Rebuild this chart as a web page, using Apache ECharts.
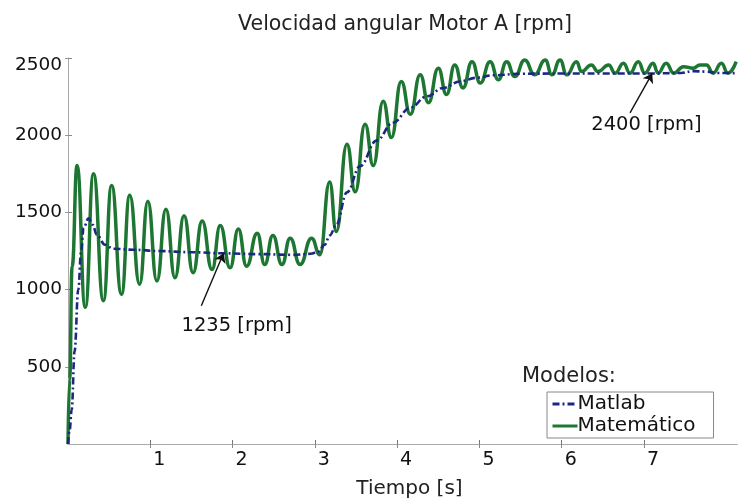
<!DOCTYPE html>
<html>
<head>
<meta charset="utf-8">
<script src="https://cdn.jsdelivr.net/npm/echarts@6/dist/echarts.min.js"></script>
<style>
  html, body { margin: 0; padding: 0; background: #fff; }
  #chart { width: 740px; height: 504px; }
</style>
</head>
<body>
<div id="chart"></div>
<script>
// Matlab model response (time in s, speed in rpm)
const matlabT = [0, 0.02, 0.045, 0.08, 0.125, 0.16, 0.19, 0.25, 0.3, 0.35, 0.45, 0.55, 0.8, 1.1, 1.5, 1.89, 2.3, 2.74, 2.95, 3.04, 3.12, 3.18, 3.26, 3.39, 3.55, 3.75, 3.95, 4.16, 4.36, 4.56, 4.76, 4.97, 5.17, 5.5, 6.0, 6.5, 7.1, 7.45, 7.6, 7.75, 7.9, 8.13];
const matlabRpm = [0, 90, 222, 600, 1000, 1250, 1400, 1462, 1420, 1355, 1290, 1265, 1258, 1250, 1242, 1235, 1230, 1225, 1232, 1245, 1290, 1350, 1419, 1630, 1800, 1965, 2081, 2178, 2252, 2306, 2348, 2372, 2388, 2398, 2400, 2400, 2400, 2403, 2415, 2412, 2403, 2402];

// Mathematical model response (time in s, speed in rpm)
const mathT = [0, 0.02, 0.05, 0.11, 0.21, 0.31, 0.43, 0.53, 0.65, 0.75, 0.87, 0.97, 1.08, 1.19, 1.30, 1.41, 1.52, 1.63, 1.75, 1.85, 1.97, 2.07, 2.17, 2.30, 2.39, 2.49, 2.60, 2.70, 2.82, 2.96, 3.06, 3.18, 3.26, 3.39, 3.49, 3.61, 3.71, 3.83, 3.93, 4.05, 4.16, 4.28, 4.38, 4.50, 4.60, 4.70, 4.80, 4.91, 5.01, 5.13, 5.23, 5.33, 5.43, 5.55, 5.67, 5.80, 5.88, 5.98, 6.06, 6.18, 6.24, 6.36, 6.44, 6.57, 6.65, 6.75, 6.83, 6.93, 7.01, 7.11, 7.17, 7.27, 7.36, 7.48, 7.60, 7.68, 7.76, 7.84, 7.94, 8.02, 8.12];
const mathRpm = [0, 420, 1150, 1803, 885, 1750, 928, 1675, 970, 1611, 1034, 1572, 1056, 1521, 1077, 1479, 1109, 1444, 1130, 1415, 1141, 1393, 1152, 1365, 1162, 1351, 1162, 1333, 1162, 1333, 1226, 1697, 1376, 1942, 1633, 2071, 1803, 2220, 1985, 2348, 2135, 2391, 2210, 2434, 2263, 2455, 2306, 2476, 2338, 2476, 2359, 2476, 2380, 2487, 2391, 2487, 2391, 2487, 2391, 2476, 2412, 2455, 2412, 2455, 2402, 2466, 2402, 2476, 2402, 2466, 2402, 2466, 2402, 2444, 2434, 2455, 2455, 2402, 2466, 2402, 2476];

// Axis ticks
const xTicks = [1, 2, 3, 4, 5, 6, 7];
const yTicks = [500, 1000, 1500, 2000, 2500];

// Annotated steady-state speeds: arrow tail, arrow tip on the Matlab curve, text position
const lowSpeed = 1235;
const lowTip = [1.89, lowSpeed];
const lowTail = [1.62, 896];
const lowText = [2.05, 767];

const highSpeed = 2400;
const highTip = [7.1, highSpeed];
const highTail = [6.83, 2145];
const highText = [7.03, 2064];

const FONT = 'DejaVu Sans';
const zip = (a, b) => a.map((v, i) => [v, b[i]]);

const arrow = (tail, tip) => [
  { coord: tail, symbol: 'none' },
  { coord: tip, symbol: 'arrow' }
];
const note = (pos, text) => ({
  coord: pos,
  symbol: 'circle',
  symbolSize: 0,
  label: { show: true, position: 'inside', formatter: text, color: '#111', fontSize: 19.5, fontFamily: FONT }
});

const chart = echarts.init(document.getElementById('chart'), null, { renderer: 'canvas' });

chart.setOption({
  backgroundColor: '#fff',
  animation: false,
  title: [
    {
      text: 'Velocidad angular Motor A [rpm]',
      left: 400, top: 9, textAlign: 'center',
      textStyle: { fontFamily: FONT, fontSize: 20.5, fontWeight: 'normal', color: '#222' }
    },
    {
      text: 'Modelos:',
      left: 517, top: 361,
      textStyle: { fontFamily: FONT, fontSize: 21, fontWeight: 'normal', color: '#222' }
    }
  ],
  legend: {
    orient: 'vertical',
    left: 547, top: 392,
    itemWidth: 25, itemHeight: 14, itemGap: 2,
    padding: [2, 18, 2, 4],
    borderColor: '#888', borderWidth: 1,
    backgroundColor: '#fff',
    itemStyle: { opacity: 0 },
    lineStyle: { width: 3 },
    textStyle: { fontFamily: FONT, fontSize: 20, color: '#111', padding: [0, 0, 0, -5] },
    data: ['Matlab', 'Matemático']
  },
  grid: { left: 68, right: 3, top: 58, bottom: 56 },
  xAxis: [
    {
      type: 'value', min: 0, max: 8.13,
      name: 'Tiempo [s]', nameLocation: 'middle', nameGap: 35,
      nameTextStyle: { fontFamily: FONT, fontSize: 20, color: '#222', padding: [0, 0, 0, 14] },
      axisLine: { show: true, lineStyle: { color: '#999', width: 1 } },
      axisTick: { show: true, inside: true, length: 4, customValues: xTicks, lineStyle: { color: '#777' } },
      axisLabel: { customValues: xTicks, fontFamily: FONT, fontSize: 19, color: '#111', margin: 7, padding: [0, 0, 0, 18] },
      splitLine: { show: false }
    },
    {
      type: 'value', min: 0, max: 8.13, position: 'top',
      axisLine: { show: true, lineStyle: { color: '#aaa', width: 1 } },
      axisTick: { show: true, inside: true, length: 4, customValues: xTicks, lineStyle: { color: '#888' } },
      axisLabel: { show: false },
      splitLine: { show: false }
    }
  ],
  yAxis: [
    {
      type: 'value', min: 0, max: 2500,
      axisLine: { show: true, lineStyle: { color: '#aaa', width: 1 } },
      axisTick: { show: true, inside: true, length: 4, customValues: yTicks, lineStyle: { color: '#888' } },
      axisLabel: {
        customValues: yTicks, fontFamily: FONT, fontSize: 18.5, color: '#111', margin: 6,
        formatter: v => (v === 2500 ? '{top|' + v + '}' : String(v)),
        rich: { top: { fontFamily: FONT, fontSize: 18.5, color: '#111', padding: [14, 0, 0, 0] } }
      },
      splitLine: { show: false }
    },
    {
      type: 'value', min: 0, max: 2500, position: 'right',
      axisLine: { show: false },
      axisTick: { show: true, inside: true, length: 3, customValues: yTicks, lineStyle: { color: '#999' } },
      axisLabel: { show: false },
      splitLine: { show: false }
    }
  ],
  series: [
    {
      name: 'Matemático',
      type: 'line',
      data: zip(mathT, mathRpm),
      showSymbol: false, symbol: 'none',
      smooth: 0.5, smoothMonotone: 'x',
      color: '#1d7632',
      lineStyle: { color: '#1d7632', width: 3.5 },
      z: 2
    },
    {
      name: 'Matlab',
      type: 'line',
      data: zip(matlabT, matlabRpm),
      showSymbol: false, symbol: 'none',
      smooth: 0.4, smoothMonotone: 'x',
      color: '#1c2784',
      lineStyle: { color: '#1c2784', width: 2.6, type: [7, 3, 2, 3] },
      z: 3,
      markLine: {
        silent: true,
        symbolSize: 9,
        label: { show: false },
        lineStyle: { color: '#111', width: 1.4, type: 'solid' },
        data: [arrow(lowTail, lowTip), arrow(highTail, highTip)]
      },
      markPoint: {
        silent: true,
        data: [note(lowText, lowSpeed + ' [rpm]'), note(highText, highSpeed + ' [rpm]')]
      }
    }
  ]
});
</script>
</body>
</html>
